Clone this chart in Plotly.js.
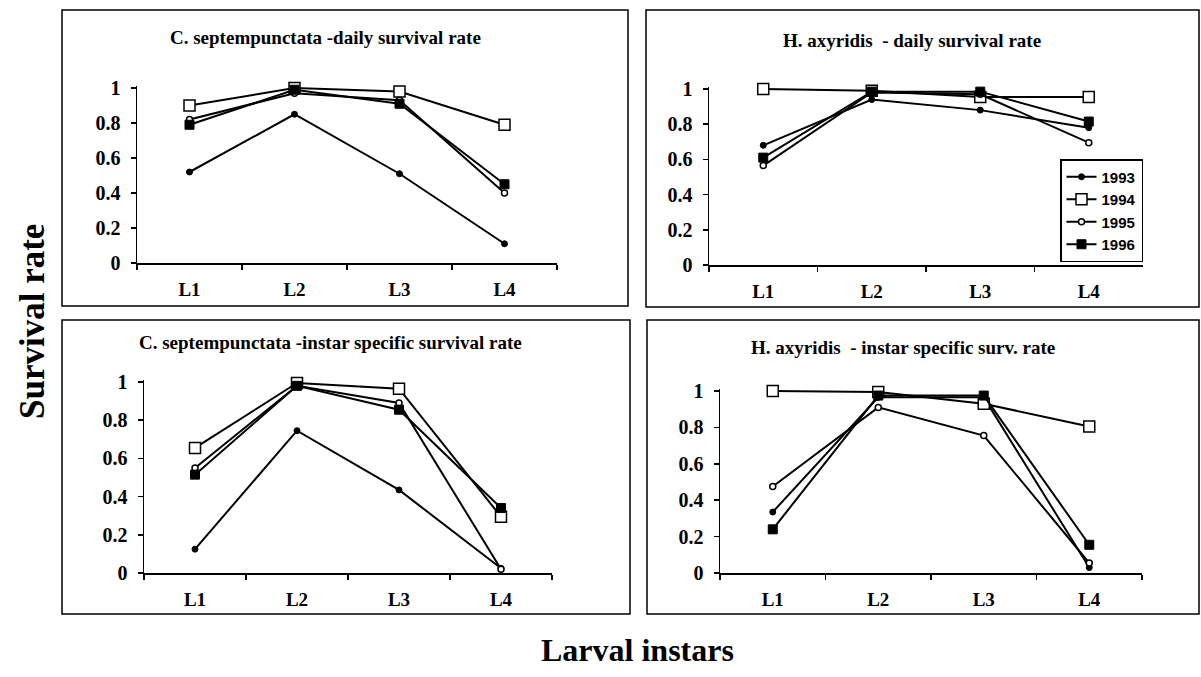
<!DOCTYPE html>
<html>
<head>
<meta charset="utf-8">
<script src="https://cdn.plot.ly/plotly-3.0.1.min.js"></script>
<style>html,body{margin:0;padding:0;background:#fff;}#chart{width:1201px;height:677px;}</style>
</head>
<body>
<div id="chart"></div>
<script>
// ---- data ----
const categories = ['L1', 'L2', 'L3', 'L4'];
const years = ['1993', '1994', '1995', '1996'];
const yTickVals = [0, 0.2, 0.4, 0.6, 0.8, 1];
const yTickText = ['0', '0.2', '0.4', '0.6', '0.8', '1'];

const panelTitles = [
  'C. septempunctata -daily survival rate',
  'H. axyridis  - daily survival rate',
  'C. septempunctata -instar specific survival rate',
  'H. axyridis  - instar specific surv. rate'
];

// C. septempunctata - daily survival rate
const c7Daily1993 = [0.52, 0.85, 0.51, 0.11];
const c7Daily1994 = [0.90, 1.00, 0.98, 0.79];
const c7Daily1995 = [0.82, 0.97, 0.93, 0.40];
const c7Daily1996 = [0.79, 0.99, 0.91, 0.45];

// H. axyridis - daily survival rate
const haDaily1993 = [0.68, 0.94, 0.88, 0.78];
const haDaily1994 = [1.00, 0.99, 0.955, 0.955];
const haDaily1995 = [0.565, 0.98, 0.97, 0.695];
const haDaily1996 = [0.61, 0.985, 0.985, 0.815];

// C. septempunctata - instar specific survival rate
const c7Instar1993 = [0.125, 0.745, 0.435, 0.025];
const c7Instar1994 = [0.655, 0.995, 0.965, 0.295];
const c7Instar1995 = [0.55, 0.98, 0.89, 0.02];
const c7Instar1996 = [0.515, 0.98, 0.855, 0.34];

// H. axyridis - instar specific survival rate
const haInstar1993 = [0.335, 0.965, 0.965, 0.03];
const haInstar1994 = [1.00, 0.995, 0.93, 0.805];
const haInstar1995 = [0.475, 0.91, 0.755, 0.055];
const haInstar1996 = [0.24, 0.975, 0.975, 0.155];

const panels = [
  [c7Daily1993, c7Daily1994, c7Daily1995, c7Daily1996],
  [haDaily1993, haDaily1994, haDaily1995, haDaily1996],
  [c7Instar1993, c7Instar1994, c7Instar1995, c7Instar1996],
  [haInstar1993, haInstar1994, haInstar1995, haInstar1996]
];

// ---- styles ----
const W = 1201, H = 677;
const px = v => v / W;
const py = v => 1 - v / H;

const markerStyles = [
  {symbol: 'circle', size: 6, color: '#000', line: {color: '#000', width: 1}},
  {symbol: 'square', size: 11, color: '#fff', line: {color: '#000', width: 1.5}},
  {symbol: 'circle', size: 6, color: '#fff', line: {color: '#000', width: 1.5}},
  {symbol: 'square', size: 9, color: '#000', line: {color: '#000', width: 1}}
];

const serif = 'Liberation Serif, Times New Roman, serif';
const sans = 'Liberation Sans, Arial, sans-serif';

// plot areas in pixels: [left, right, yZeroPix, yOnePix]
const areas = [
  [137, 557, 263, 88],
  [709, 1143, 265, 89],
  [144, 552, 573, 382],
  [720, 1142, 573, 391]
];
const yMax = 1.01;

const traces = [];
panels.forEach((series, p) => {
  const xa = p === 0 ? 'x' : 'x' + (p + 1);
  const ya = p === 0 ? 'y' : 'y' + (p + 1);
  series.forEach((vals, s) => {
    traces.push({
      type: 'scatter',
      mode: 'lines+markers',
      x: categories,
      y: vals,
      name: years[s],
      xaxis: xa,
      yaxis: ya,
      showlegend: p === 1,
      legendrank: s + 1,
      cliponaxis: false,
      line: {color: '#000', width: 2},
      marker: markerStyles[s]
    });
  });
});

const layout = {
  width: W,
  height: H,
  margin: {l: 0, r: 0, t: 0, b: 0},
  paper_bgcolor: '#fff',
  plot_bgcolor: 'rgba(0,0,0,0)',
  showlegend: true,
  legend: {
    x: px(1060), y: py(159), xanchor: 'left', yanchor: 'top',
    bordercolor: '#000', borderwidth: 1.5, bgcolor: '#fff',
    font: {family: sans, size: 15, weight: 'bold', color: '#000'},
    itemwidth: 30,
    traceorder: 'normal',
    tracegroupgap: 0
  },
  shapes: [],
  annotations: []
};

areas.forEach((a, p) => {
  const [l, r, y0, y1] = a;
  const unit = y0 - y1;
  const top = y1 - (yMax - 1) * unit;
  const suffix = p === 0 ? '' : String(p + 1);
  layout['xaxis' + suffix] = {
    domain: [px(l), px(r)],
    anchor: 'y' + suffix,
    type: 'category',
    categoryarray: categories,
    range: [-0.5, 3.5],
    tickson: 'boundaries',
    ticks: 'outside', ticklen: 5, tickwidth: 1.5, tickcolor: '#000',
    showline: true, linecolor: '#000', linewidth: 1.5,
    showgrid: false, zeroline: false,
    ticklabelstandoff: 9,
    tickfont: {family: serif, size: 19, weight: 'bold', color: '#000'},
    fixedrange: true
  };
  layout['yaxis' + suffix] = {
    domain: [py(y0), py(top)],
    anchor: 'x' + suffix,
    range: [0, yMax],
    tickvals: yTickVals,
    ticktext: yTickText,
    ticks: 'outside', ticklen: 5, tickwidth: 1.5, tickcolor: '#000',
    showline: true, linecolor: '#000', linewidth: 1.5,
    showgrid: false, zeroline: false,
    ticklabelstandoff: 6,
    tickfont: {family: serif, size: 20, weight: 'bold', color: '#000'},
    fixedrange: true
  };
});

// panel frames
const boxes = [
  [62, 628, 10, 306],
  [646, 1199, 10, 307],
  [62, 630, 320, 614],
  [647, 1199, 320, 614]
];
boxes.forEach(b => {
  layout.shapes.push({
    type: 'rect', xref: 'paper', yref: 'paper',
    x0: px(b[0]), x1: px(b[1]), y0: py(b[3]), y1: py(b[2]),
    line: {color: '#000', width: 1.5}, fillcolor: 'rgba(0,0,0,0)', layer: 'below'
  });
});

// panel titles
const titlePos = [[325, 37], [912, 40], [330, 342], [903, 347]];
panelTitles.forEach((t, i) => {
  layout.annotations.push({
    text: t, xref: 'paper', yref: 'paper',
    x: px(titlePos[i][0]), y: py(titlePos[i][1]),
    xanchor: 'center', yanchor: 'middle', showarrow: false,
    font: {family: serif, size: 19, weight: 'bold', color: '#000'}
  });
});

// shared axis titles
layout.annotations.push({
  text: 'Survival rate', xref: 'paper', yref: 'paper',
  x: px(32), y: py(322), xanchor: 'center', yanchor: 'middle',
  textangle: -90, showarrow: false,
  font: {family: serif, size: 35, weight: 'bold', color: '#000'}
});
layout.annotations.push({
  text: 'Larval instars', xref: 'paper', yref: 'paper',
  x: px(637), y: py(650), xanchor: 'center', yanchor: 'middle',
  showarrow: false,
  font: {family: serif, size: 32, weight: 'bold', color: '#000'}
});

Plotly.newPlot('chart', traces, layout, {displayModeBar: false, staticPlot: true});
</script>
</body>
</html>
